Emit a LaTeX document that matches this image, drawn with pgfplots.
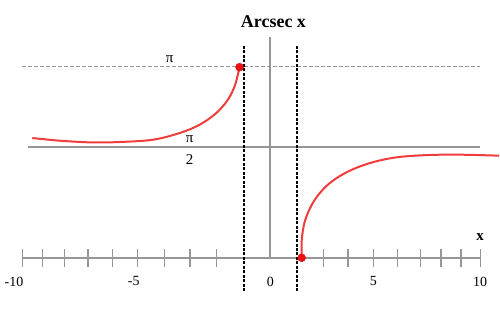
\documentclass[border=0pt]{standalone}
\usepackage{pgfplots}
\pgfplotsset{compat=1.18}
\usepackage{fontspec}
\setmainfont{Liberation Serif}
\definecolor{curvered}{RGB}{240,60,60}
\definecolor{dotred}{RGB}{232,16,16}
\definecolor{axgray}{RGB}{150,150,150}
\begin{document}
\begin{tikzpicture}
\begin{axis}[
  x=1pt, y=1pt,
  xmin=-248.3, xmax=210.3, ymin=0, ymax=221.3,
  axis lines=middle,
  axis line style={draw=axgray, line width=2pt, -},
  xtick={-248.3,-228.7,-206.7,-182.7,-158.3,-133.3,-106,-80.7,-54,53,77.7,103.3,127.3,150.3,171,191,210.3},
  xticklabels={},
  ytick=\empty,
  xtick align=center,
  major tick length=18pt,
  every tick/.style={draw=axgray, line width=1.3pt},
  clip=false,
]
% invisible frame: the full picture
\path (axis cs:-271,-61.7) rectangle (axis cs:229,258.3);
% pi line (dashed) and pi/2 line
\addplot[axgray, line width=1.3pt, dash pattern=on 4pt off 2pt] coordinates {(-249,191.6) (210.3,191.6)};
\addplot[axgray, line width=2pt] coordinates {(-243,110.6) (210.3,110.6)};
% dashed verticals at x = -1 and x = 1
\addplot[black, line width=2pt, dash pattern=on 3pt off 1.5pt] coordinates {(-27,-33.7) (-27,213.3)};
\addplot[black, line width=2pt, dash pattern=on 3pt off 1.5pt] coordinates {(27,-33.7) (27,213.3)};
% left branch
\addplot[curvered, line width=2pt, smooth, tension=0.55] coordinates {
(-238.7,120) (-211,117.3) (-179.3,115.6) (-151,116) (-117.7,118.3) (-91,125)
(-71,133.3) (-54.3,145) (-42.7,158.3) (-36,171.6) (-32.7,183.3) (-31,191)};
% right branch
\addplot[curvered, line width=2pt, smooth, tension=0.55] coordinates {
(31.3,0) (31.4,18.3) (34,35) (39,48.3) (45.7,60) (55.7,71.6) (69,81.6) (85.7,90)
(105.7,96.6) (129,101) (159,103) (185.7,103.3) (205.7,103) (229,102.3)};
% end points
\addplot[only marks, mark=*, mark size=4pt, color=dotred] coordinates {(-31,191) (31.3,0)};
% texts
\node[anchor=base, font=\fontsize{18}{21}\selectfont\bfseries] at (axis cs:3,231) {Arcsec x};
\node[font=\fontsize{15}{17}\selectfont\bfseries] at (axis cs:210,21) {x};
\node[font=\fontsize{15}{17}\selectfont] at (axis cs:-101,199) {π};
\node[font=\fontsize{15}{17}\selectfont] at (axis cs:-81,118.5) {π};
\node[font=\fontsize{15}{17}\selectfont] at (axis cs:-81,98) {2};
\node[font=\fontsize{14}{16}\selectfont] at (axis cs:-257,-23.7) {-10};
\node[font=\fontsize{14}{16}\selectfont] at (axis cs:-137,-23.7) {-5};
\node[font=\fontsize{14}{16}\selectfont] at (axis cs:0,-23.7) {0};
\node[font=\fontsize{14}{16}\selectfont] at (axis cs:103,-23.7) {5};
\node[font=\fontsize{14}{16}\selectfont] at (axis cs:210,-23.7) {10};
\end{axis}
\end{tikzpicture}
\end{document}
